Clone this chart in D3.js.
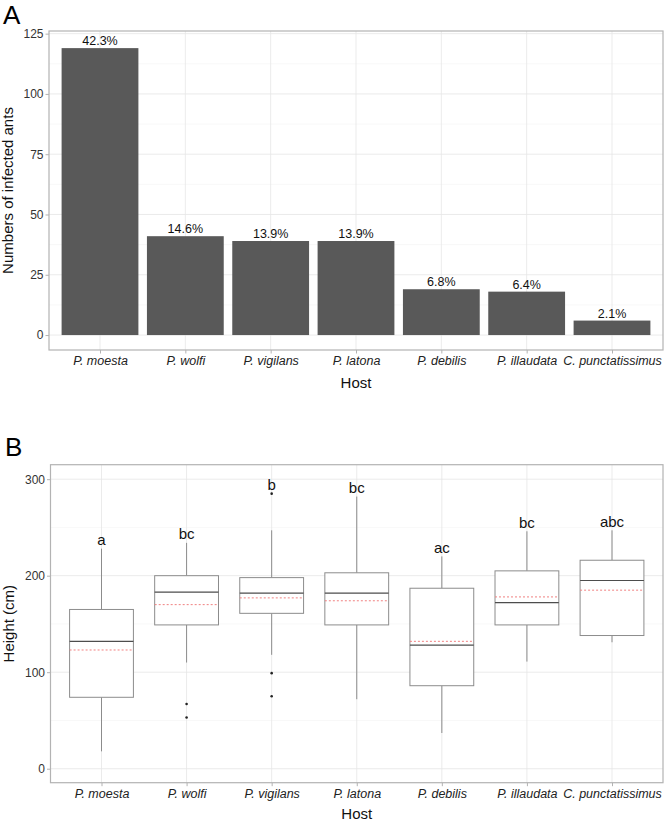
<!DOCTYPE html>
<html>
<head>
<meta charset="utf-8">
<script src="https://cdn.jsdelivr.net/npm/d3@7"></script>
<style>
  body { margin: 0; background: #fff; }
  svg { display: block; font-family: "Liberation Sans", Arial, sans-serif; }
</style>
</head>
<body>
<svg id="chart" width="664" height="821"></svg>
<script>
// ---- data ----
const hosts = ["P. moesta", "P. wolfi", "P. vigilans", "P. latona", "P. debilis", "P. illaudata", "C. punctatissimus"];
const infected = [119, 41, 39, 39, 19, 18, 6];
const percentLabels = ["42.3%", "14.6%", "13.9%", "13.9%", "6.8%", "6.4%", "2.1%"];
const countTicks = [0, 25, 50, 75, 100, 125];
const countMinor = [12.5, 37.5, 62.5, 87.5, 112.5];

const boxLow = [18, 110, 118, 72, 37, 111, 131];
const boxQ1 = [74, 149, 161, 149, 86, 149, 138];
const boxMedian = [132, 183, 182, 182, 128, 172, 195];
const boxQ3 = [165, 200, 198, 203, 187, 205, 216];
const boxHigh = [228, 234, 247, 282, 220, 246, 247];
const boxMean = [123, 170, 177, 174, 132, 178, 185];
const outliers = [[], [67, 53], [285, 99, 75], [], [], [], []];
const sigLetters = ["a", "bc", "b", "bc", "ac", "bc", "abc"];
const heightTicks = [0, 100, 200, 300];
const heightMinor = [50, 150, 250];

// ---- styles ----
const borderCol = "#b3b3b3", gridMajor = "#e6e6e6", gridMinor = "#f3f3f3";
const svg = d3.select("#chart");

function panel(cfg) {
  const g = svg.append("g");
  const x = d3.scalePoint().domain(hosts).range([cfg.left + cfg.pad, cfg.right - cfg.pad]);
  const y = d3.scaleLinear().domain(cfg.ydom).range([cfg.bottom, cfg.top]);
  // grid
  g.selectAll(".gmin").data(cfg.minor).join("line")
    .attr("x1", cfg.left).attr("x2", cfg.right)
    .attr("y1", d => y(d)).attr("y2", d => y(d))
    .attr("stroke", gridMinor).attr("stroke-width", 0.6);
  g.selectAll(".gmaj").data(cfg.ticks).join("line")
    .attr("x1", cfg.left).attr("x2", cfg.right)
    .attr("y1", d => y(d)).attr("y2", d => y(d))
    .attr("stroke", gridMajor).attr("stroke-width", 0.8);
  g.selectAll(".gx").data(hosts).join("line")
    .attr("x1", d => x(d)).attr("x2", d => x(d))
    .attr("y1", cfg.top).attr("y2", cfg.bottom)
    .attr("stroke", gridMajor).attr("stroke-width", 0.8);
  // axes
  const ya = g.append("g").attr("transform", `translate(${cfg.left},0)`)
    .call(d3.axisLeft(y).tickValues(cfg.ticks).tickSize(3.5).tickPadding(2).tickFormat(d3.format("d")));
  ya.select(".domain").remove();
  ya.selectAll("line").attr("stroke", borderCol);
  ya.selectAll("text").attr("fill", "#333").style("font-size", "12px");
  const xa = g.append("g").attr("transform", `translate(0,${cfg.bottom})`)
    .call(d3.axisBottom(x).tickSize(3.5).tickPadding(3));
  xa.select(".domain").remove();
  xa.selectAll("line").attr("stroke", borderCol);
  xa.selectAll("text").attr("fill", "#222").style("font-size", "12.5px").style("font-style", "italic");
  const marks = g.append("g");
  // border
  g.append("rect").attr("x", cfg.left).attr("y", cfg.top)
    .attr("width", cfg.right - cfg.left).attr("height", cfg.bottom - cfg.top)
    .attr("fill", "none").attr("stroke", borderCol).attr("stroke-width", 1.2);
  // titles
  g.append("text").attr("x", (cfg.left + cfg.right) / 2).attr("y", cfg.xTitleY)
    .attr("text-anchor", "middle").style("font-size", "15px").attr("fill", "#111").text("Host");
  g.append("text").attr("transform", `translate(${cfg.yTitleX},${(cfg.top + cfg.bottom) / 2}) rotate(-90)`)
    .attr("text-anchor", "middle").attr("dy", "0.35em").style("font-size", "15px").attr("fill", "#111").text(cfg.yTitle);
  g.append("text").attr("x", cfg.letterX).attr("y", cfg.letterY)
    .style("font-size", "26px").attr("fill", "#000").text(cfg.letter);
  return { x, y, marks };
}

// ---- Panel A ----
const A = panel({
  left: 49, right: 663, top: 31, bottom: 350, pad: 51,
  ydom: [-6.2, 126.1], ticks: countTicks, minor: countMinor,
  xTitleY: 387.5, yTitleX: 8, yTitle: "Numbers of infected ants",
  letter: "A", letterX: 3, letterY: 23.5
});
const bw = (A.x.step()) * 0.9;
A.marks.selectAll("rect").data(hosts).join("rect")
  .attr("x", d => A.x(d) - bw / 2).attr("width", bw)
  .attr("y", (d, i) => A.y(infected[i]))
  .attr("height", (d, i) => A.y(0) - A.y(infected[i]))
  .attr("fill", "#595959");
A.marks.selectAll("text").data(hosts).join("text")
  .attr("x", d => A.x(d)).attr("y", (d, i) => A.y(infected[i]) - 3)
  .attr("text-anchor", "middle").style("font-size", "12.5px").attr("fill", "#111")
  .text((d, i) => percentLabels[i]);

// ---- Panel B ----
const B = panel({
  left: 50.5, right: 663, top: 464.7, bottom: 782.7, pad: 51,
  ydom: [-14.5, 315], ticks: heightTicks, minor: heightMinor,
  xTitleY: 819, yTitleX: 9, yTitle: "Height (cm)",
  letter: "B", letterX: 5, letterY: 455.7
});
const boxW = B.x.step() * 0.75;
const boxCol = "#8c8c8c";
hosts.forEach((h, i) => {
  const cx = B.x(h), gg = B.marks.append("g");
  gg.append("line").attr("x1", cx).attr("x2", cx).attr("y1", B.y(boxHigh[i])).attr("y2", B.y(boxQ3[i]))
    .attr("stroke", boxCol).attr("stroke-width", 1);
  gg.append("line").attr("x1", cx).attr("x2", cx).attr("y1", B.y(boxQ1[i])).attr("y2", B.y(boxLow[i]))
    .attr("stroke", boxCol).attr("stroke-width", 1);
  gg.append("rect").attr("x", cx - boxW / 2).attr("width", boxW)
    .attr("y", B.y(boxQ3[i])).attr("height", B.y(boxQ1[i]) - B.y(boxQ3[i]))
    .attr("fill", "#fff").attr("stroke", boxCol).attr("stroke-width", 1);
  gg.append("line").attr("x1", cx - boxW / 2).attr("x2", cx + boxW / 2)
    .attr("y1", B.y(boxMean[i])).attr("y2", B.y(boxMean[i]))
    .attr("stroke", "#f08080").attr("stroke-width", 1).attr("stroke-dasharray", "2,2");
  gg.append("line").attr("x1", cx - boxW / 2).attr("x2", cx + boxW / 2)
    .attr("y1", B.y(boxMedian[i])).attr("y2", B.y(boxMedian[i]))
    .attr("stroke", "#4d4d4d").attr("stroke-width", 1.2);
  gg.selectAll("circle").data(outliers[i]).join("circle")
    .attr("cx", cx).attr("cy", d => B.y(d)).attr("r", 1.3).attr("fill", "#222");
  const top = Math.max(boxHigh[i], ...outliers[i]);
  gg.append("text").attr("x", cx).attr("y", B.y(top) - 3.5)
    .attr("text-anchor", "middle").style("font-size", "15px").attr("fill", "#111").text(sigLetters[i]);
});
</script>
</body>
</html>
